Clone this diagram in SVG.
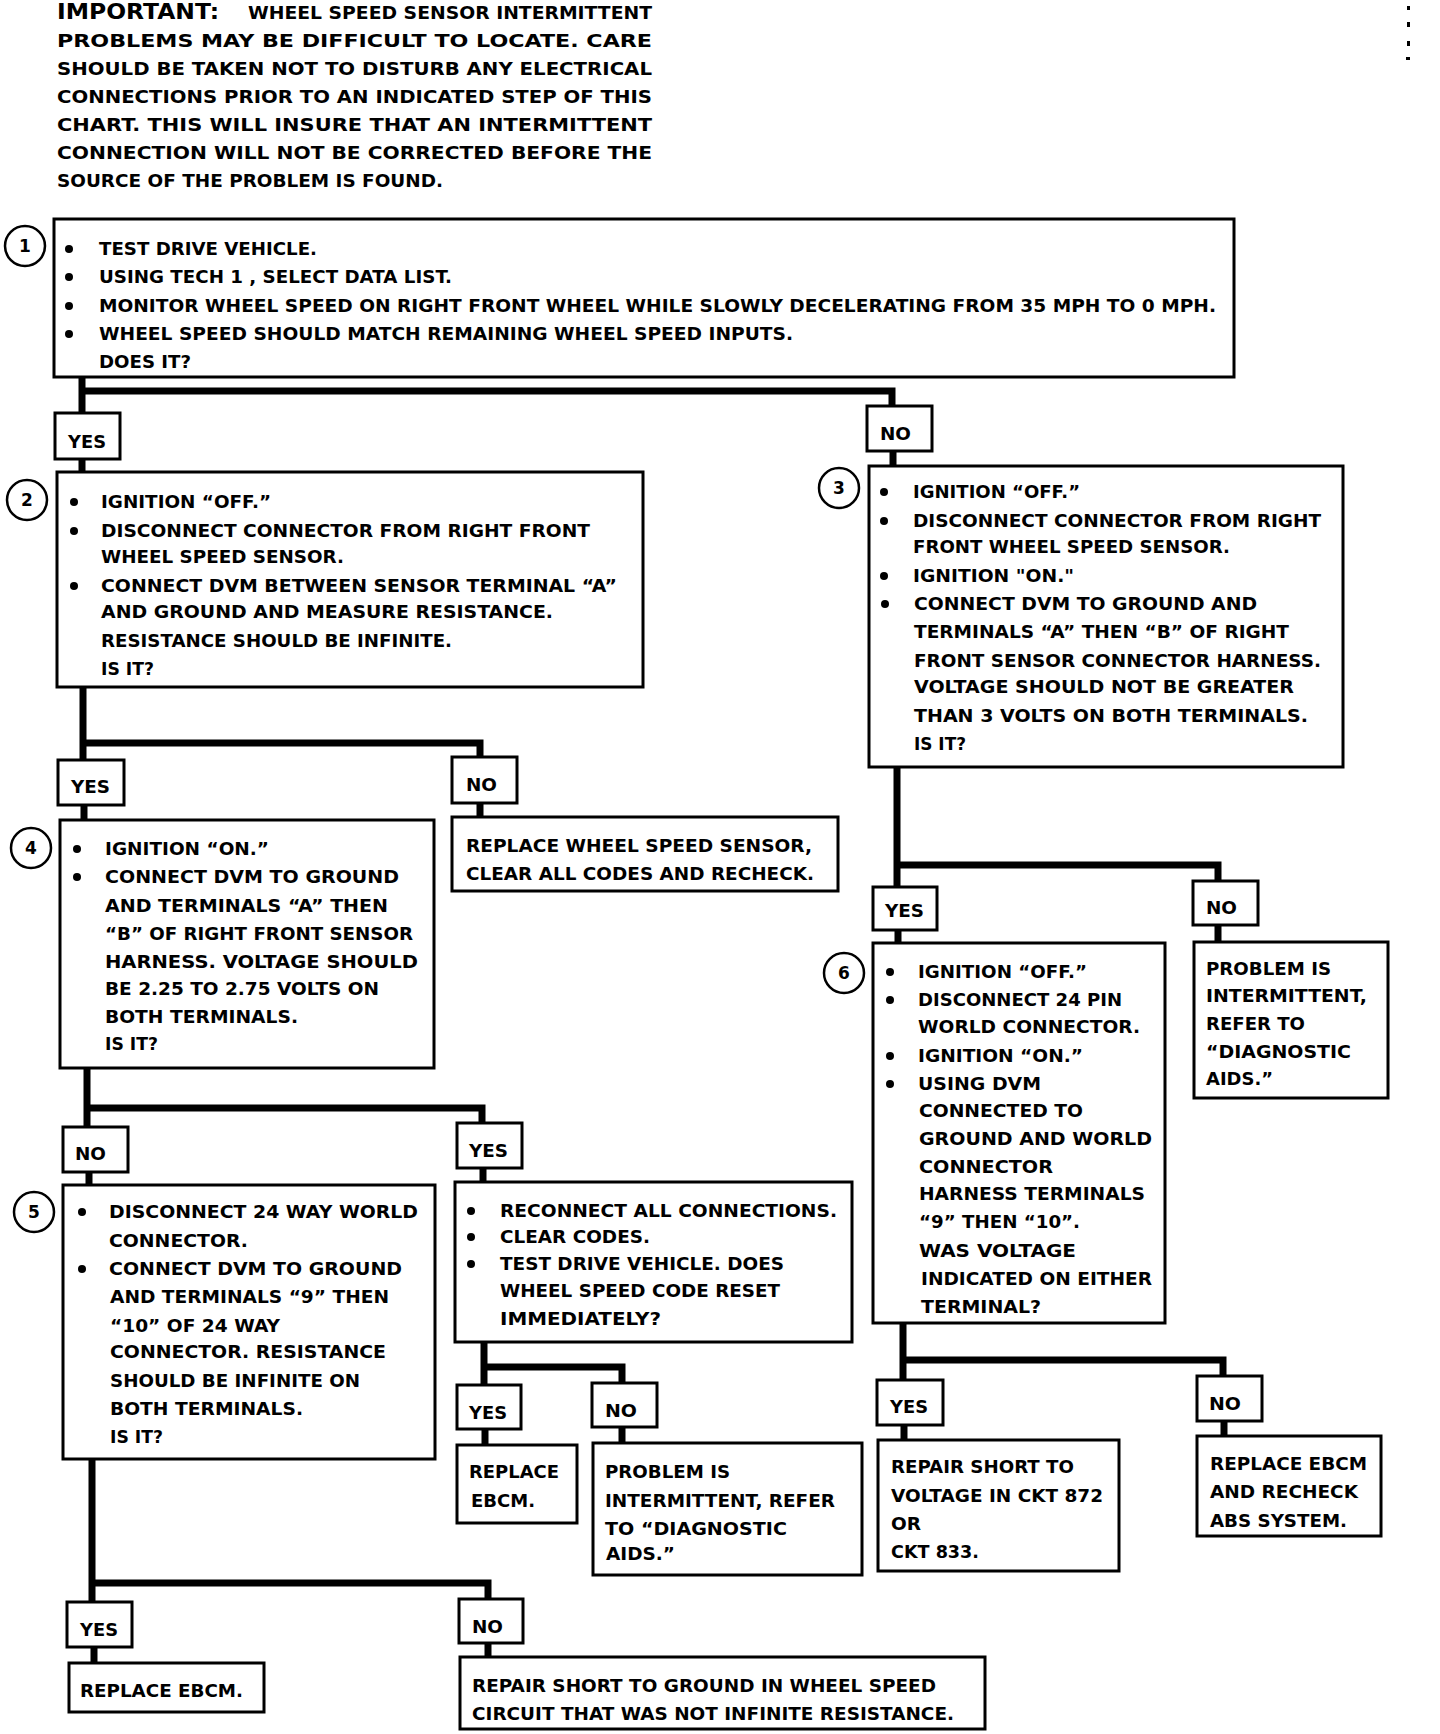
<svg xmlns="http://www.w3.org/2000/svg" width="1440" height="1734" viewBox="0 0 1440 1734">
<style>
.bg{fill:#fff}
.box{fill:#fff;stroke:#000;stroke-width:3}
.t{font-family:"DejaVu Sans","Liberation Sans",sans-serif;font-weight:bold;font-size:17px;fill:#000}
.h{font-size:18px}
.big{font-size:22px}
.lbl{font-size:18px}
.num{font-size:17px;text-anchor:middle}
.conn{fill:none;stroke:#000;stroke-width:7;stroke-linejoin:miter}
.dot{fill:#000}
.circ{fill:#fff;stroke:#000;stroke-width:2.5}
</style>
<rect class="bg" x="0" y="0" width="1440" height="1734"/>

<g id="note">
<text class="t big" x="57" y="19" textLength="162" lengthAdjust="spacingAndGlyphs">IMPORTANT:</text>
<text class="t h" x="248" y="19" textLength="404" lengthAdjust="spacingAndGlyphs">WHEEL SPEED SENSOR INTERMITTENT</text>
<text class="t h" x="57" y="47" textLength="595" lengthAdjust="spacingAndGlyphs">PROBLEMS MAY BE DIFFICULT TO LOCATE.  CARE</text>
<text class="t h" x="57" y="75" textLength="595" lengthAdjust="spacingAndGlyphs">SHOULD BE TAKEN NOT TO DISTURB ANY ELECTRICAL</text>
<text class="t h" x="57" y="103" textLength="595" lengthAdjust="spacingAndGlyphs">CONNECTIONS PRIOR TO AN INDICATED STEP OF THIS</text>
<text class="t h" x="57" y="131" textLength="595" lengthAdjust="spacingAndGlyphs">CHART.  THIS WILL INSURE THAT AN INTERMITTENT</text>
<text class="t h" x="57" y="159" textLength="595" lengthAdjust="spacingAndGlyphs">CONNECTION WILL NOT BE CORRECTED BEFORE THE</text>
<text class="t h" x="57" y="187" textLength="386" lengthAdjust="spacingAndGlyphs">SOURCE OF THE PROBLEM IS FOUND.</text>
</g>

<g id="specks">
<rect class="dot" x="1407" y="6" width="3" height="4"/>
<rect class="dot" x="1407" y="22" width="3" height="5"/>
<rect class="dot" x="1407" y="41" width="3" height="5"/>
<rect class="dot" x="1406" y="57" width="4" height="3"/>
</g>

<g id="connectors">
<path class="conn" d="M82,377 V413 M82,391 H892 V406 M82,459 V472 M893,451 V466"/>
<path class="conn" d="M83,688 V760 M83,743 H480 V757 M84,805 V820 M480,803 V817"/>
<path class="conn" d="M897,767 V887 M897,865 H1218 V881 M898,930 V943 M1218,925 V942"/>
<path class="conn" d="M87,1068 V1127 M87,1108 H482 V1123 M89,1172 V1185 M483,1168 V1182"/>
<path class="conn" d="M484,1342 V1385 M484,1367 H622 V1383 M485,1429 V1445 M622,1427 V1443"/>
<path class="conn" d="M92,1459 V1602 M92,1583 H488 V1599 M94,1647 V1663 M488,1643 V1657"/>
<path class="conn" d="M903,1323 V1380 M903,1360 H1223 V1376 M904,1425 V1440 M1224,1421 V1436"/>
</g>

<g id="labels">
<g id="yes1"><rect class="box" x="55" y="413" width="65" height="46"/><text class="t lbl" x="68" y="448" textLength="38" lengthAdjust="spacingAndGlyphs">YES</text></g>
<g id="no1"><rect class="box" x="867" y="406" width="65" height="45"/><text class="t lbl" x="880" y="440" textLength="31" lengthAdjust="spacingAndGlyphs">NO</text></g>
<g id="yes2"><rect class="box" x="58" y="760" width="66" height="45"/><text class="t lbl" x="71" y="793" textLength="39" lengthAdjust="spacingAndGlyphs">YES</text></g>
<g id="no2"><rect class="box" x="452" y="757" width="65" height="46"/><text class="t lbl" x="466" y="791" textLength="31" lengthAdjust="spacingAndGlyphs">NO</text></g>
<g id="yes3"><rect class="box" x="873" y="887" width="64" height="43"/><text class="t lbl" x="885" y="917" textLength="39" lengthAdjust="spacingAndGlyphs">YES</text></g>
<g id="no3"><rect class="box" x="1193" y="881" width="65" height="44"/><text class="t lbl" x="1206" y="914" textLength="31" lengthAdjust="spacingAndGlyphs">NO</text></g>
<g id="no4"><rect class="box" x="63" y="1127" width="65" height="45"/><text class="t lbl" x="75" y="1160" textLength="31" lengthAdjust="spacingAndGlyphs">NO</text></g>
<g id="yes4"><rect class="box" x="457" y="1123" width="65" height="45"/><text class="t lbl" x="469" y="1157" textLength="39" lengthAdjust="spacingAndGlyphs">YES</text></g>
<g id="yes5"><rect class="box" x="457" y="1385" width="64" height="44"/><text class="t lbl" x="469" y="1419" textLength="38" lengthAdjust="spacingAndGlyphs">YES</text></g>
<g id="no5"><rect class="box" x="592" y="1383" width="65" height="44"/><text class="t lbl" x="605" y="1417" textLength="32" lengthAdjust="spacingAndGlyphs">NO</text></g>
<g id="yes6"><rect class="box" x="67" y="1602" width="65" height="45"/><text class="t lbl" x="80" y="1636" textLength="38" lengthAdjust="spacingAndGlyphs">YES</text></g>
<g id="no6"><rect class="box" x="459" y="1599" width="64" height="44"/><text class="t lbl" x="472" y="1633" textLength="31" lengthAdjust="spacingAndGlyphs">NO</text></g>
<g id="yes7"><rect class="box" x="877" y="1380" width="66" height="45"/><text class="t lbl" x="890" y="1413" textLength="38" lengthAdjust="spacingAndGlyphs">YES</text></g>
<g id="no7"><rect class="box" x="1197" y="1376" width="65" height="45"/><text class="t lbl" x="1209" y="1410" textLength="32" lengthAdjust="spacingAndGlyphs">NO</text></g>
</g>

<g id="step1">
<rect class="box" x="54" y="219" width="1180" height="158"/>
<circle class="circ" cx="25" cy="246" r="20"/><text class="t num" x="25" y="252">1</text>
<circle class="dot" cx="69" cy="249" r="4"/><circle class="dot" cx="69" cy="277" r="4"/><circle class="dot" cx="69" cy="306" r="4"/><circle class="dot" cx="69" cy="334" r="4"/>
<text class="t" x="99" y="255" textLength="218" lengthAdjust="spacingAndGlyphs">TEST DRIVE VEHICLE.</text>
<text class="t" x="99" y="283" textLength="353" lengthAdjust="spacingAndGlyphs">USING TECH 1 , SELECT DATA LIST.</text>
<text class="t" x="99" y="312" textLength="1117" lengthAdjust="spacingAndGlyphs">MONITOR WHEEL SPEED ON RIGHT FRONT WHEEL WHILE SLOWLY DECELERATING FROM 35 MPH TO 0 MPH.</text>
<text class="t" x="99" y="340" textLength="694" lengthAdjust="spacingAndGlyphs">WHEEL SPEED SHOULD MATCH REMAINING WHEEL SPEED INPUTS.</text>
<text class="t" x="99" y="368" textLength="92" lengthAdjust="spacingAndGlyphs">DOES IT?</text>
</g>

<g id="step2">
<rect class="box" x="57" y="472" width="586" height="215"/>
<circle class="circ" cx="27" cy="500" r="20"/><text class="t num" x="27" y="506">2</text>
<circle class="dot" cx="74" cy="502" r="4"/><circle class="dot" cx="74" cy="531" r="4"/><circle class="dot" cx="74" cy="586" r="4"/>
<text class="t" x="101" y="508" textLength="170" lengthAdjust="spacingAndGlyphs">IGNITION “OFF.”</text>
<text class="t" x="101" y="537" textLength="489" lengthAdjust="spacingAndGlyphs">DISCONNECT CONNECTOR FROM RIGHT FRONT</text>
<text class="t" x="101" y="563" textLength="243" lengthAdjust="spacingAndGlyphs">WHEEL SPEED SENSOR.</text>
<text class="t" x="101" y="592" textLength="516" lengthAdjust="spacingAndGlyphs">CONNECT DVM BETWEEN SENSOR TERMINAL “A”</text>
<text class="t" x="101" y="618" textLength="452" lengthAdjust="spacingAndGlyphs">AND GROUND AND MEASURE RESISTANCE.</text>
<text class="t" x="101" y="647" textLength="351" lengthAdjust="spacingAndGlyphs">RESISTANCE SHOULD BE INFINITE.</text>
<text class="t" x="101" y="675" textLength="53" lengthAdjust="spacingAndGlyphs">IS IT?</text>
</g>

<g id="step3">
<rect class="box" x="869" y="466" width="474" height="301"/>
<circle class="circ" cx="839" cy="488" r="20"/><text class="t num" x="839" y="494">3</text>
<circle class="dot" cx="884" cy="492" r="4"/><circle class="dot" cx="884" cy="521" r="4"/><circle class="dot" cx="884" cy="576" r="4"/><circle class="dot" cx="885" cy="604" r="4"/>
<text class="t" x="913" y="498" textLength="167" lengthAdjust="spacingAndGlyphs">IGNITION “OFF.”</text>
<text class="t" x="913" y="527" textLength="408" lengthAdjust="spacingAndGlyphs">DISCONNECT CONNECTOR FROM RIGHT</text>
<text class="t" x="913" y="553" textLength="317" lengthAdjust="spacingAndGlyphs">FRONT WHEEL SPEED SENSOR.</text>
<text class="t" x="913" y="582" textLength="161" lengthAdjust="spacingAndGlyphs">IGNITION "ON."</text>
<text class="t" x="914" y="610" textLength="343" lengthAdjust="spacingAndGlyphs">CONNECT DVM TO GROUND AND</text>
<text class="t" x="914" y="638" textLength="375" lengthAdjust="spacingAndGlyphs">TERMINALS “A” THEN “B” OF RIGHT</text>
<text class="t" x="914" y="667" textLength="407" lengthAdjust="spacingAndGlyphs">FRONT SENSOR CONNECTOR HARNESS.</text>
<text class="t" x="914" y="693" textLength="380" lengthAdjust="spacingAndGlyphs">VOLTAGE SHOULD NOT BE GREATER</text>
<text class="t" x="914" y="722" textLength="394" lengthAdjust="spacingAndGlyphs">THAN 3 VOLTS ON BOTH TERMINALS.</text>
<text class="t" x="914" y="750" textLength="52" lengthAdjust="spacingAndGlyphs">IS IT?</text>
</g>

<g id="step4">
<rect class="box" x="60" y="820" width="374" height="248"/>
<circle class="circ" cx="31" cy="848" r="20"/><text class="t num" x="31" y="854">4</text>
<circle class="dot" cx="77" cy="849" r="4"/><circle class="dot" cx="77" cy="877" r="4"/>
<text class="t" x="105" y="855" textLength="164" lengthAdjust="spacingAndGlyphs">IGNITION “ON.”</text>
<text class="t" x="105" y="883" textLength="294" lengthAdjust="spacingAndGlyphs">CONNECT DVM TO GROUND</text>
<text class="t" x="105" y="912" textLength="283" lengthAdjust="spacingAndGlyphs">AND TERMINALS “A” THEN</text>
<text class="t" x="105" y="940" textLength="308" lengthAdjust="spacingAndGlyphs">“B” OF RIGHT FRONT SENSOR</text>
<text class="t" x="105" y="968" textLength="313" lengthAdjust="spacingAndGlyphs">HARNESS.  VOLTAGE SHOULD</text>
<text class="t" x="105" y="995" textLength="274" lengthAdjust="spacingAndGlyphs">BE 2.25 TO 2.75 VOLTS ON</text>
<text class="t" x="105" y="1023" textLength="193" lengthAdjust="spacingAndGlyphs">BOTH TERMINALS.</text>
<text class="t" x="105" y="1050" textLength="53" lengthAdjust="spacingAndGlyphs">IS IT?</text>
</g>

<g id="replaceSensor">
<rect class="box" x="452" y="817" width="386" height="74"/>
<text class="t" x="466" y="852" textLength="346" lengthAdjust="spacingAndGlyphs">REPLACE  WHEEL SPEED SENSOR,</text>
<text class="t" x="466" y="880" textLength="348" lengthAdjust="spacingAndGlyphs">CLEAR ALL CODES AND RECHECK.</text>
</g>

<g id="step5">
<rect class="box" x="63" y="1185" width="372" height="274"/>
<circle class="circ" cx="34" cy="1212" r="20"/><text class="t num" x="34" y="1218">5</text>
<circle class="dot" cx="82" cy="1212" r="4"/><circle class="dot" cx="82" cy="1269" r="4"/>
<text class="t" x="109" y="1218" textLength="309" lengthAdjust="spacingAndGlyphs">DISCONNECT 24 WAY WORLD</text>
<text class="t" x="109" y="1247" textLength="139" lengthAdjust="spacingAndGlyphs">CONNECTOR.</text>
<text class="t" x="109" y="1275" textLength="293" lengthAdjust="spacingAndGlyphs">CONNECT DVM TO GROUND</text>
<text class="t" x="110" y="1303" textLength="279" lengthAdjust="spacingAndGlyphs">AND TERMINALS “9” THEN</text>
<text class="t" x="110" y="1332" textLength="170" lengthAdjust="spacingAndGlyphs">“10” OF 24 WAY</text>
<text class="t" x="110" y="1358" textLength="276" lengthAdjust="spacingAndGlyphs">CONNECTOR.  RESISTANCE</text>
<text class="t" x="110" y="1387" textLength="250" lengthAdjust="spacingAndGlyphs">SHOULD BE INFINITE ON</text>
<text class="t" x="110" y="1415" textLength="193" lengthAdjust="spacingAndGlyphs">BOTH TERMINALS.</text>
<text class="t" x="110" y="1443" textLength="53" lengthAdjust="spacingAndGlyphs">IS IT?</text>
</g>

<g id="reconnect">
<rect class="box" x="455" y="1182" width="397" height="160"/>
<circle class="dot" cx="471" cy="1211" r="4"/><circle class="dot" cx="471" cy="1237" r="4"/><circle class="dot" cx="471" cy="1264" r="4"/>
<text class="t" x="500" y="1217" textLength="337" lengthAdjust="spacingAndGlyphs">RECONNECT ALL CONNECTIONS.</text>
<text class="t" x="500" y="1243" textLength="150" lengthAdjust="spacingAndGlyphs">CLEAR CODES.</text>
<text class="t" x="500" y="1270" textLength="284" lengthAdjust="spacingAndGlyphs">TEST DRIVE VEHICLE.  DOES</text>
<text class="t" x="500" y="1297" textLength="280" lengthAdjust="spacingAndGlyphs">WHEEL SPEED CODE RESET</text>
<text class="t" x="500" y="1325" textLength="161" lengthAdjust="spacingAndGlyphs">IMMEDIATELY?</text>
</g>

<g id="step6">
<rect class="box" x="873" y="943" width="292" height="380"/>
<circle class="circ" cx="844" cy="973" r="20"/><text class="t num" x="844" y="979">6</text>
<circle class="dot" cx="890" cy="972" r="4"/><circle class="dot" cx="890" cy="1000" r="4"/><circle class="dot" cx="890" cy="1056" r="4"/><circle class="dot" cx="890" cy="1084" r="4"/>
<text class="t" x="918" y="978" textLength="169" lengthAdjust="spacingAndGlyphs">IGNITION “OFF.”</text>
<text class="t" x="918" y="1006" textLength="204" lengthAdjust="spacingAndGlyphs">DISCONNECT 24 PIN</text>
<text class="t" x="918" y="1033" textLength="222" lengthAdjust="spacingAndGlyphs">WORLD CONNECTOR.</text>
<text class="t" x="918" y="1062" textLength="165" lengthAdjust="spacingAndGlyphs">IGNITION “ON.”</text>
<text class="t" x="918" y="1090" textLength="123" lengthAdjust="spacingAndGlyphs">USING DVM</text>
<text class="t" x="919" y="1117" textLength="164" lengthAdjust="spacingAndGlyphs">CONNECTED TO</text>
<text class="t" x="919" y="1145" textLength="233" lengthAdjust="spacingAndGlyphs">GROUND AND WORLD</text>
<text class="t" x="919" y="1173" textLength="134" lengthAdjust="spacingAndGlyphs">CONNECTOR</text>
<text class="t" x="919" y="1200" textLength="226" lengthAdjust="spacingAndGlyphs">HARNESS TERMINALS</text>
<text class="t" x="919" y="1228" textLength="161" lengthAdjust="spacingAndGlyphs">“9” THEN “10”.</text>
<text class="t" x="919" y="1257" textLength="157" lengthAdjust="spacingAndGlyphs">WAS VOLTAGE</text>
<text class="t" x="921" y="1285" textLength="231" lengthAdjust="spacingAndGlyphs">INDICATED ON EITHER</text>
<text class="t" x="921" y="1313" textLength="120" lengthAdjust="spacingAndGlyphs">TERMINAL?</text>
</g>

<g id="intermittentRight">
<rect class="box" x="1194" y="942" width="194" height="156"/>
<text class="t" x="1206" y="975" textLength="125" lengthAdjust="spacingAndGlyphs">PROBLEM IS</text>
<text class="t" x="1206" y="1002" textLength="161" lengthAdjust="spacingAndGlyphs">INTERMITTENT,</text>
<text class="t" x="1206" y="1030" textLength="99" lengthAdjust="spacingAndGlyphs">REFER TO</text>
<text class="t" x="1206" y="1058" textLength="145" lengthAdjust="spacingAndGlyphs">“DIAGNOSTIC</text>
<text class="t" x="1206" y="1085" textLength="67" lengthAdjust="spacingAndGlyphs">AIDS.”</text>
</g>

<g id="replaceEbcmMid">
<rect class="box" x="457" y="1445" width="120" height="78"/>
<text class="t" x="469" y="1478" textLength="90" lengthAdjust="spacingAndGlyphs">REPLACE</text>
<text class="t" x="471" y="1507" textLength="64" lengthAdjust="spacingAndGlyphs">EBCM.</text>
</g>

<g id="intermittentMid">
<rect class="box" x="593" y="1443" width="269" height="132"/>
<text class="t" x="605" y="1478" textLength="125" lengthAdjust="spacingAndGlyphs">PROBLEM IS</text>
<text class="t" x="605" y="1507" textLength="230" lengthAdjust="spacingAndGlyphs">INTERMITTENT, REFER</text>
<text class="t" x="605" y="1535" textLength="182" lengthAdjust="spacingAndGlyphs">TO “DIAGNOSTIC</text>
<text class="t" x="606" y="1560" textLength="69" lengthAdjust="spacingAndGlyphs">AIDS.”</text>
</g>

<g id="replaceEbcmLeft">
<rect class="box" x="69" y="1663" width="195" height="49"/>
<text class="t" x="80" y="1697" textLength="163" lengthAdjust="spacingAndGlyphs">REPLACE EBCM.</text>
</g>

<g id="repairGround">
<rect class="box" x="460" y="1657" width="525" height="72"/>
<text class="t" x="472" y="1692" textLength="464" lengthAdjust="spacingAndGlyphs">REPAIR SHORT TO GROUND IN WHEEL SPEED</text>
<text class="t" x="472" y="1720" textLength="482" lengthAdjust="spacingAndGlyphs">CIRCUIT THAT WAS NOT INFINITE RESISTANCE.</text>
</g>

<g id="repairVoltage">
<rect class="box" x="878" y="1440" width="241" height="131"/>
<text class="t" x="891" y="1473" textLength="183" lengthAdjust="spacingAndGlyphs">REPAIR SHORT TO</text>
<text class="t" x="891" y="1502" textLength="212" lengthAdjust="spacingAndGlyphs">VOLTAGE IN CKT 872</text>
<text class="t" x="891" y="1530" textLength="30" lengthAdjust="spacingAndGlyphs">OR</text>
<text class="t" x="891" y="1558" textLength="88" lengthAdjust="spacingAndGlyphs">CKT 833.</text>
</g>

<g id="replaceEbcmRecheck">
<rect class="box" x="1197" y="1436" width="184" height="100"/>
<text class="t" x="1210" y="1470" textLength="157" lengthAdjust="spacingAndGlyphs">REPLACE EBCM</text>
<text class="t" x="1210" y="1498" textLength="148" lengthAdjust="spacingAndGlyphs">AND RECHECK</text>
<text class="t" x="1210" y="1527" textLength="137" lengthAdjust="spacingAndGlyphs">ABS SYSTEM.</text>
</g>
</svg>
